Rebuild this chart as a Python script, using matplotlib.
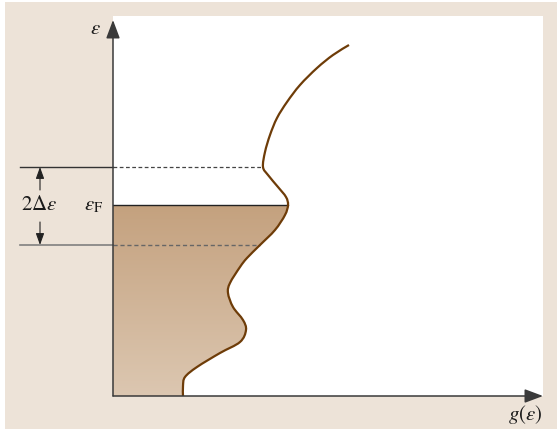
import matplotlib
matplotlib.use("Agg")
import matplotlib.pyplot as plt
import numpy as np
from matplotlib.colors import LinearSegmentedColormap
from matplotlib.patches import PathPatch, Rectangle
from matplotlib.path import Path

plt.rcParams["mathtext.fontset"] = "stix"
plt.rcParams["font.family"] = ["Liberation Serif", "DejaVu Serif"]

# density of states g(eps), arbitrary units
energy = [0.00, 0.10, 0.19, 0.29, 0.43, 0.54, 0.66, 0.76, 0.89, 1.03,
          1.13, 1.29, 1.38, 1.51, 1.66, 1.81, 1.91, 1.99, 2.09, 2.21,
          2.29, 2.44, 2.61, 2.78, 2.94, 3.11, 3.28, 3.41, 3.51]
dos = [0.70, 0.70, 0.72, 0.84, 1.07, 1.27, 1.33, 1.30, 1.20, 1.15,
       1.17, 1.27, 1.34, 1.47, 1.62, 1.72, 1.75, 1.73, 1.65, 1.55,
       1.50, 1.52, 1.57, 1.64, 1.74, 1.87, 2.04, 2.20, 2.36]
e_fermi = 1.91
e_upper = 2.29
e_lower = 1.51

beige = "#ede3d8"
brown = "#6e3c08"


def bezier_through(xs, ys, stop=None):
    """Cubic Bezier (Catmull-Rom tangents) through the given points."""
    pts = np.column_stack([xs, ys])
    n = len(pts)
    stop = n - 1 if stop is None else stop
    verts = [pts[0]]
    codes = [Path.MOVETO]
    for i in range(stop):
        p0 = pts[max(i - 1, 0)]
        p1 = pts[i]
        p2 = pts[i + 1]
        p3 = pts[min(i + 2, n - 1)]
        verts += [p1 + (p2 - p0) / 6, p2 - (p3 - p1) / 6, p2]
        codes += [Path.CURVE4] * 3
    return verts, codes


fig = plt.figure(figsize=(5.57, 4.29), dpi=100, facecolor="white")
fig.patches.append(Rectangle((5 / 557, 0), 1, 427 / 429, transform=fig.transFigure,
                             facecolor=beige, edgecolor="none", zorder=-5))
ax = fig.add_axes([113 / 557, 33 / 429, 430 / 557, 378 / 429])
ax.set_xlim(0, 4.30)
ax.set_ylim(0, 3.78)
ax.axis("off")
ax.add_patch(Rectangle((0, 0), 4.30, 3.80, facecolor="white", edgecolor="none",
                       zorder=-4, clip_on=False))

energy = np.asarray(energy)
dos = np.asarray(dos)
i_f = int(np.argmin(np.abs(energy - e_fermi)))
i_up = int(np.argmin(np.abs(energy - e_upper)))
i_lo = int(np.argmin(np.abs(energy - e_lower)))

# occupied states: gradient clipped to the region under the curve
v, c = bezier_through(dos, energy, stop=i_f)
occ_path = Path(v + [(0, e_fermi), (0, 0), (dos[0], energy[0])],
                c + [Path.LINETO, Path.LINETO, Path.CLOSEPOLY])
cmap = LinearSegmentedColormap.from_list("occ", ["#dcc7b1", "#c4a17e"])
grad = np.linspace(0, 1, 256).reshape(-1, 1)
im = ax.imshow(grad, extent=[0, dos.max(), 0, e_fermi], origin="lower",
               aspect="auto", cmap=cmap, zorder=1)
im.set_clip_path(occ_path, transform=ax.transData)

v, c = bezier_through(dos, energy)
ax.add_patch(PathPatch(Path(v, c), facecolor="none", edgecolor=brown, lw=1.6,
                       zorder=4, capstyle="butt"))
ax.plot([0, dos[i_f]], [e_fermi, e_fermi], color="#222222", lw=1.0, zorder=3)

# 2*delta-eps window
ax.plot([-0.93, 0], [e_upper, e_upper], color="#333333", lw=1.0, clip_on=False)
ax.plot([-0.93, 0], [e_lower, e_lower], color="#808080", lw=1.2, clip_on=False)
ax.plot([0, dos[i_up]], [e_upper, e_upper], color="#444444", lw=0.9,
        dashes=(3, 2), zorder=2)
ax.plot([0, dos[i_lo]], [e_lower, e_lower], color="#666666", lw=1.0,
        dashes=(3, 2), zorder=2)

arr = dict(arrowstyle="-|>,head_length=0.5,head_width=0.18", color="#222222",
           lw=0.8, shrinkA=0, shrinkB=0, mutation_scale=14)
ax.annotate("", xy=(-0.73, e_upper), xytext=(-0.73, 2.06), arrowprops=arr,
            annotation_clip=False)
ax.annotate("", xy=(-0.73, e_lower), xytext=(-0.73, 1.74), arrowprops=arr,
            annotation_clip=False)
ax.text(-0.74, 1.905, r"$2\Delta\varepsilon$", fontsize=15, ha="center",
        va="center", color="#1a1a1a")
ax.text(-0.19, 1.905, r"$\varepsilon_{\mathrm{F}}$", fontsize=15, ha="center",
        va="center", color="#1a1a1a")

# axes with arrowheads
axis_arr = dict(arrowstyle="-|>,head_length=0.8,head_width=0.3", color="#3a3a3a",
                lw=1.1, shrinkA=0, shrinkB=0, mutation_scale=14)
ax.annotate("", xy=(0, 3.76), xytext=(0, 0), arrowprops=axis_arr,
            annotation_clip=False, zorder=5)
ax.annotate("", xy=(4.30, 0), xytext=(0, 0), arrowprops=axis_arr,
            annotation_clip=False, zorder=5)
ax.text(-0.18, 3.66, r"$\varepsilon$", fontsize=15, ha="center", va="center",
        color="#1a1a1a")
ax.text(4.30, -0.19, r"$g(\varepsilon)$", fontsize=15, ha="right", va="center",
        color="#1a1a1a")

fig.savefig("out.png", dpi=100, facecolor=fig.get_facecolor())
